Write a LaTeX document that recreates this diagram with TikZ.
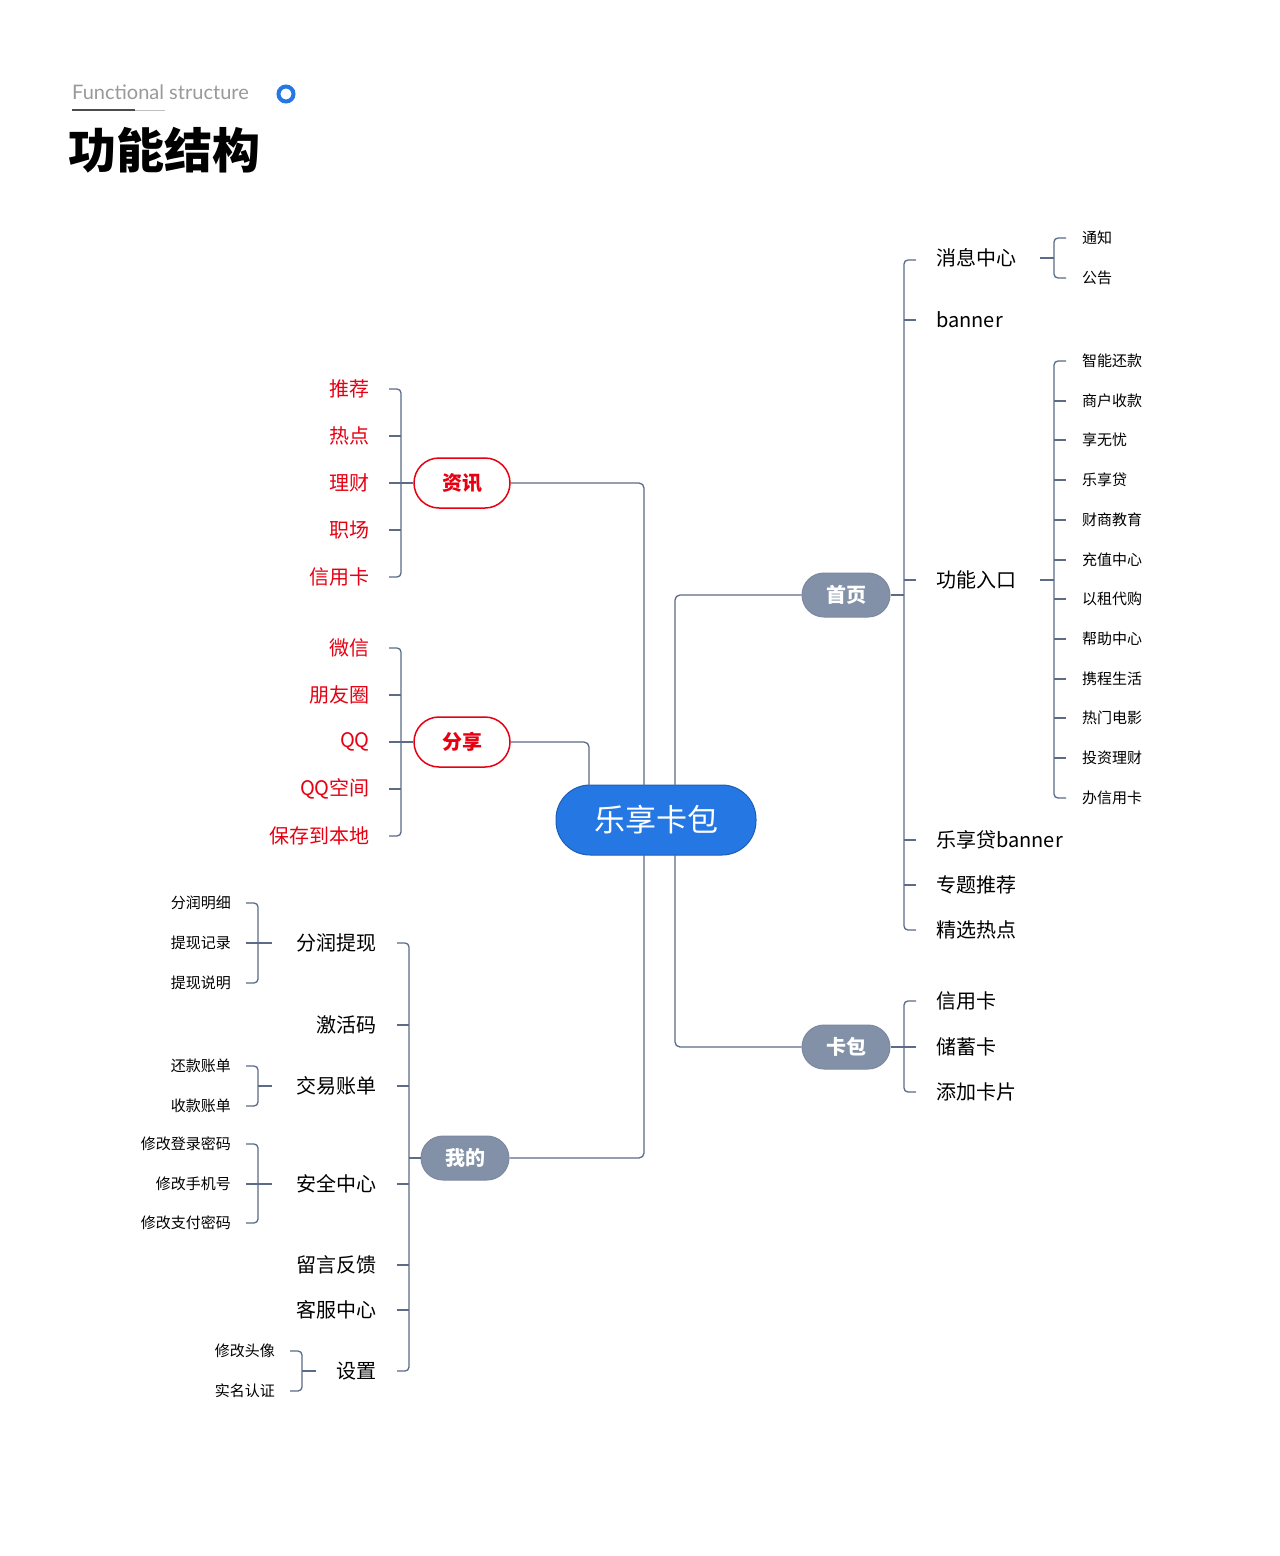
\documentclass[tikz,border=0pt]{standalone}
\usepackage{fontspec}
\setmainfont{Noto Sans CJK SC}
\newfontfamily\latin{Lato}
\definecolor{ln}{HTML}{5B6B88}
\definecolor{gnode}{HTML}{8391A8}
\definecolor{rd}{HTML}{E60012}
\definecolor{bl}{HTML}{2577E3}
\newcommand\mybr[5]{\draw[lnk,rounded corners=4pt] (#2,#3) -- (#1,#3) -- (#1,#4) -- (#2,#4);
 \foreach \yy in {#5} {\draw[lnk] (#1,\yy) -- (#2,\yy);}}
\begin{document}
\begin{tikzpicture}[x=1pt,y=-1pt,
 lnk/.style={draw=ln,line width=1.3pt},
 big/.style={font=\fontsize{20}{22}\selectfont,inner sep=0pt},
 sm/.style={font=\fontsize{15}{17}\selectfont,inner sep=0pt},
 redt/.style={big,text=rd},
 gn/.style={rounded corners=22pt,fill=gnode,draw=ln!80,line width=1pt,minimum width=88pt,minimum height=44pt,text=white,font=\fontsize{20}{22}\selectfont\bfseries},
 rn/.style={rounded corners=25pt,fill=white,draw=rd,line width=1.5pt,minimum width=96pt,minimum height=50pt,text=rd,font=\fontsize{20}{22}\selectfont\bfseries}]
\useasboundingbox[fill=white] (0,0) rectangle (1280,1556);
% header
\node[anchor=west,inner sep=0pt,text=black!40,font=\latin\fontsize{20}{22}\selectfont] (en) at (72,92) {Functional structure};
\draw[black!25,line width=1pt] (72,110) -- (165,110);
\draw[black!70,line width=1.5pt] (72,110) -- (135,110);
\draw[bl,line width=4pt] (286,94) circle (7.5pt);
\node[anchor=west,inner sep=0pt,font=\fontsize{48}{50}\selectfont\bfseries] (title) at (68,150) {功能结构};
% center
\node[rounded corners=34pt,fill=bl,draw=bl!80!black,line width=1pt,minimum width=200pt,minimum height=70pt,text=white,font=\fontsize{31}{33}\selectfont] (main) at (656,820) {乐享卡包};
\node[rn] (zx) at (462,483) {资讯};
\node[rn] (fx) at (462,742) {分享};
\node[gn] (sy) at (846,595) {首页};
\node[gn] (kb) at (846,1047) {卡包};
\node[gn] (wd) at (465,1158) {我的};
\draw[lnk,rounded corners=5pt] (zx.east) -- (644,483) -- (644,786);
\draw[lnk,rounded corners=5pt] (fx.east) -- (589,742) -- (589,786);
\draw[lnk,rounded corners=5pt] (675,786) -- (675,595) -- (sy.west);
\draw[lnk,rounded corners=5pt] (675,855) -- (675,1047) -- (kb.west);
\draw[lnk,rounded corners=5pt] (644,855) -- (644,1158) -- (wd.east);
% 资讯
\draw[lnk] (zx.west) -- (401,483);
\mybr{401}{389}{389}{577}{436,483,530}
\foreach \t/\y [count=\i] in {推荐/389,热点/436,理财/483,职场/530,信用卡/577} \node[redt,anchor=east] (z\i) at (370,\y) {\t};
% 分享
\draw[lnk] (fx.west) -- (401,742);
\mybr{401}{389}{648}{836}{695,742,789}
\foreach \t/\y [count=\i] in {微信/648,朋友圈/695,QQ/742,QQ空间/789,保存到本地/836} \node[redt,anchor=east] (f\i) at (370,\y) {\t};
% 首页
\draw[lnk] (sy.east) -- (904,595);
\mybr{904}{916}{260}{930}{320,580,840,885}
\foreach \t/\y [count=\i] in {消息中心/258,banner/320,功能入口/580,乐享贷banner/840,专题推荐/885,精选热点/930} \node[big,anchor=west] (s\i) at (936,\y) {\t};
\draw[lnk] (1040,258) -- (1054,258);
\mybr{1054}{1066}{238}{278}{}
\node[sm,anchor=west] (n1) at (1082,238) {通知};
\node[sm,anchor=west] (n2) at (1082,278) {公告};
\draw[lnk] (1040,580) -- (1054,580);
\mybr{1054}{1066}{361}{798}{401,440,480,520,560,599,639,679,718,758}
\foreach \t/\y [count=\i] in {智能还款/361,商户收款/401,享无忧/440,乐享贷/480,财商教育/520,充值中心/560,以租代购/599,帮助中心/639,携程生活/679,热门电影/718,投资理财/758,办信用卡/798} \node[sm,anchor=west] (g\i) at (1082,\y) {\t};
% 卡包
\draw[lnk] (kb.east) -- (904,1047);
\mybr{904}{916}{1001}{1092}{1047}
\foreach \t/\y [count=\i] in {信用卡/1001,储蓄卡/1047,添加卡片/1092} \node[big,anchor=west] (k\i) at (936,\y) {\t};
% 我的
\draw[lnk] (wd.west) -- (409,1158);
\mybr{409}{397}{943}{1371}{1025,1086,1184,1265,1310}
\foreach \t/\y [count=\i] in {分润提现/943,激活码/1025,交易账单/1086,安全中心/1184,留言反馈/1265,客服中心/1310,设置/1371} \node[big,anchor=east] (w\i) at (377,\y) {\t};
\draw[lnk] (272,943) -- (258,943);
\mybr{258}{246}{903}{983}{943}
\draw[lnk] (272,1086) -- (258,1086);
\mybr{258}{246}{1066}{1106}{}
\draw[lnk] (272,1184) -- (258,1184);
\mybr{258}{246}{1144}{1223}{1184}
\draw[lnk] (316,1371) -- (302,1371);
\mybr{302}{290}{1351}{1391}{}
\foreach \t/\y [count=\i] in {分润明细/903,提现记录/943,提现说明/983,还款账单/1066,收款账单/1106,修改登录密码/1144,修改手机号/1184,修改支付密码/1223} \node[sm,anchor=east] (m\i) at (231,\y) {\t};
\node[sm,anchor=east] (m9) at (275,1351) {修改头像};
\node[sm,anchor=east] (m10) at (275,1391) {实名认证};
\end{tikzpicture}
\end{document}
